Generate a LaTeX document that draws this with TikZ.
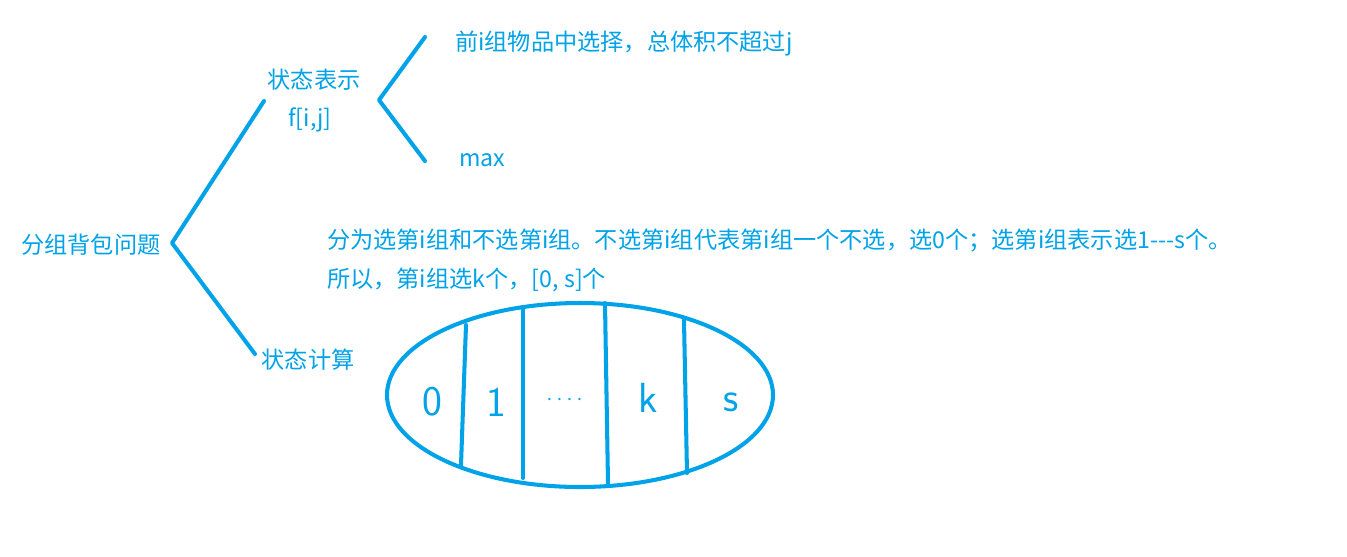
\documentclass[tikz,border=0pt]{standalone}
\usepackage{fontspec}
\setmainfont{Noto Sans CJK SC}
\usepackage{tikz}
\usetikzlibrary{positioning, calc}
\usepackage{xcolor}
\definecolor{paintblue}{HTML}{00A2E8}

\begin{document}
\begin{tikzpicture}[x=0.02cm, y=-0.02cm,
    label/.style={text=paintblue, inner sep=1pt, font=\fontsize{13.2}{15}\selectfont},
    hand/.style={text=paintblue, inner sep=0pt, font=\fontsize{24}{26}\selectfont\sffamily},
    branch/.style={draw=paintblue, line width=2.3pt, line cap=round, line join=round}]
      \fill[white] (0,0) rectangle (1347,556);
      \useasboundingbox (0,0) rectangle (1347,556);

      \node[label] (root) at (91, 245) {分组背包问题};
      \node[label] (rep) at (314, 80) {状态表示};
      \node[label] (fij) at (310, 120) {f[i,j]};
      \node[label] (calc) at (308, 360) {状态计算};
      \node[label, anchor=west] (meaning) at (453, 43)
        {前i组物品中选择，总体积不超过j};
      \node[label, anchor=west] (attr) at (457, 160) {max};
      \node[label, anchor=west] (split) at (325, 241)
        {分为选第i组和不选第i组。不选第i组代表第i组一个不选，选0个；选第i组表示选1-{}-{}-s个。};
      \node[label, anchor=west] (range) at (325, 280)
        {所以，第i组选k个，[0, s]个};

      \coordinate (fork1) at (172, 243);
      \coordinate (rep-in) at (264, 101);
      \coordinate (calc-in) at (255, 354);
      \draw[branch] (rep-in) -- (fork1) -- (calc-in);

      \coordinate (fork2) at (379, 100);
      \coordinate (meaning-in) at (425, 37);
      \coordinate (attr-in) at (425, 161);
      \draw[branch] (meaning-in) -- (fork2) -- (attr-in);

      \draw[branch] (580, 395) ellipse [x radius=193, y radius=92];
      \draw[branch] (466, 325) -- (461, 465);
      \draw[branch] (523, 308) -- (523, 478);
      \draw[branch] (605, 303) -- (608, 483);
      \draw[branch] (684, 320) -- (687, 473);

      \node[hand] (c0) at (432, 402) {0};
      \node[hand] (c1) at (496, 402) {1};
      \node[hand, font=\fontsize{10}{12}\selectfont] (cdots) at (565, 399) {. . . .};
      \node[hand] (ck) at (648, 398) {k};
      \node[hand] (cs) at (731, 402) {s};
\end{tikzpicture}
\end{document}
